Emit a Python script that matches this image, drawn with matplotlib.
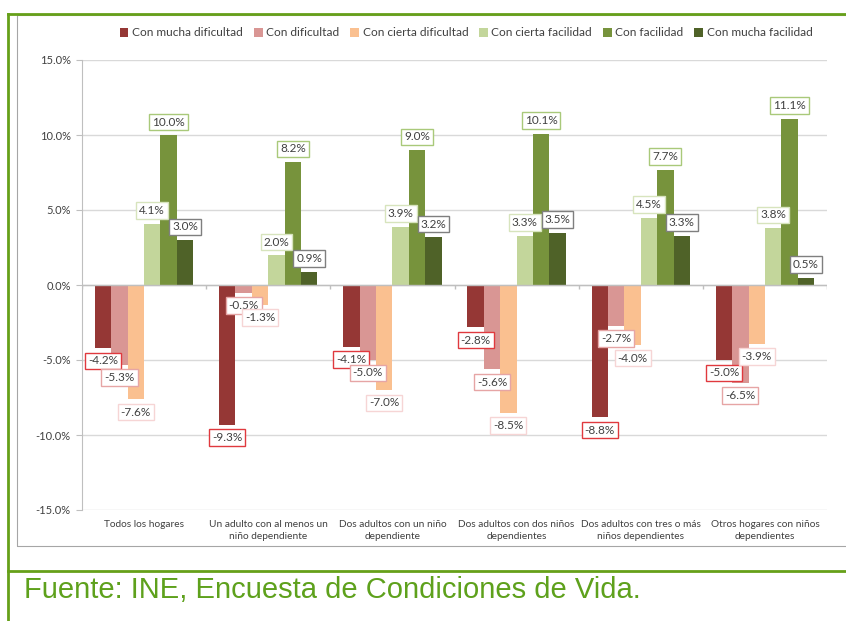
import matplotlib
matplotlib.use("Agg")
import matplotlib.pyplot as plt
from matplotlib.patches import Rectangle
from matplotlib.lines import Line2D
import numpy as np

categories = [
    "Todos los hogares",
    "Un adulto con al menos un\nniño dependiente",
    "Dos adultos con un niño\ndependiente",
    "Dos adultos con dos niños\ndependientes",
    "Dos adultos con tres o más\nniños dependientes",
    "Otros hogares con niños\ndependientes",
]
series_names = ["Con mucha dificultad", "Con dificultad", "Con cierta dificultad",
                "Con cierta facilidad", "Con facilidad", "Con mucha facilidad"]
mucha_dificultad = [-4.2, -9.3, -4.1, -2.8, -8.8, -5.0]
dificultad = [-5.3, -0.5, -5.0, -5.6, -2.7, -6.5]
cierta_dificultad = [-7.6, -1.3, -7.0, -8.5, -4.0, -3.9]
cierta_facilidad = [4.1, 2.0, 3.9, 3.3, 4.5, 3.8]
facilidad = [10.0, 8.2, 9.0, 10.1, 7.7, 11.1]
mucha_facilidad = [3.0, 0.9, 3.2, 3.5, 3.3, 0.5]
yticks = [-15, -10, -5, 0, 5, 10, 15]

series = [mucha_dificultad, dificultad, cierta_dificultad,
          cierta_facilidad, facilidad, mucha_facilidad]
colors = ["#953735", "#D99694", "#FAC090", "#C3D69B", "#77933C", "#4F6228"]
label_edges = ["#E0393E", "#E6A5A5", "#F6D5D5", "#D7E4BD", "#A9C97A", "#7F7F7F"]

FONT = "Lato"
TXT = "#404040"
W, H = 846, 621
fig = plt.figure(figsize=(W / 100, H / 100), dpi=100)

# frame decorations
green = "#66A019"
fig.add_artist(Rectangle((17 / W, 1 - 546 / H), 1.0, (546 - 15) / H, transform=fig.transFigure,
                         fill=False, ec="#A6A6A6", lw=0.8))
fig.add_artist(Line2D([8 / W, 8 / W], [0, 1 - 14 / H], transform=fig.transFigure, color=green, lw=2))
fig.add_artist(Line2D([8 / W, 1], [1 - 14 / H, 1 - 14 / H], transform=fig.transFigure, color=green, lw=2))
fig.add_artist(Line2D([8 / W, 1], [1 - 571 / H, 1 - 571 / H], transform=fig.transFigure, color=green, lw=2))
fig.text(24 / W, 1 - 590 / H, "Fuente: INE, Encuesta de Condiciones de Vida.",
         family="Liberation Sans", fontsize=21, color="#5EA11C", va="center", ha="left")

ax = fig.add_axes([82 / W, 1 - 510 / H, (827 - 82) / W, (510 - 60) / H])
x = np.arange(len(categories))
bw = 0.132
for j, (vals, name, c, ec) in enumerate(zip(series, series_names, colors, label_edges)):
    pos = x + (j - 2.5) * bw
    ax.bar(pos, vals, width=bw, color=c, label=name, zorder=3)
for j, (vals, ec) in enumerate(zip(series, label_edges)):
    pos = x + (j - 2.5) * bw
    for p, v in zip(pos, vals):
        off = 13 if v >= 0 else -13
        ax.annotate(f"{v:.1f}%", (p, v), xytext=(0, off), textcoords="offset pixels",
                    ha="center", va="center", fontsize=8.5, family=FONT, color=TXT,
                    bbox=dict(boxstyle="square,pad=0.25", fc="white", ec=ec, lw=1.0), zorder=5)

ax.set_xlim(-0.5, len(categories) - 0.5)
ax.set_ylim(-15, 15)
ax.set_yticks(yticks)
ax.set_yticklabels([f"{t:.1f}%" for t in yticks], family=FONT, fontsize=8, color=TXT)
ax.yaxis.grid(True, color="#D9D9D9", lw=1, zorder=0)
ax.axhline(0, color="#BFBFBF", lw=1, zorder=4)
ax.vlines(np.arange(len(categories) + 1) - 0.5, -0.25, 0, color="#BFBFBF", lw=1, zorder=4)
ax.set_xticks(x)
ax.set_xticklabels(categories, family=FONT, fontsize=7.3, color=TXT, linespacing=1.5)
ax.tick_params(axis="x", length=0, pad=7)
ax.tick_params(axis="y", length=4, color="#BFBFBF", pad=4)
for s in ["top", "right", "bottom"]:
    ax.spines[s].set_visible(False)
ax.spines["left"].set_color("#BFBFBF")

handles, labels = ax.get_legend_handles_labels()
fig.legend(handles, labels, loc="center", bbox_to_anchor=(466 / W, 1 - 33 / H), ncol=6,
           frameon=False, prop={"family": FONT, "size": 8.6}, handlelength=0.75, handleheight=0.75,
           handletextpad=0.3, columnspacing=0.9, labelcolor=TXT)

fig.savefig("out.png", dpi=100)
